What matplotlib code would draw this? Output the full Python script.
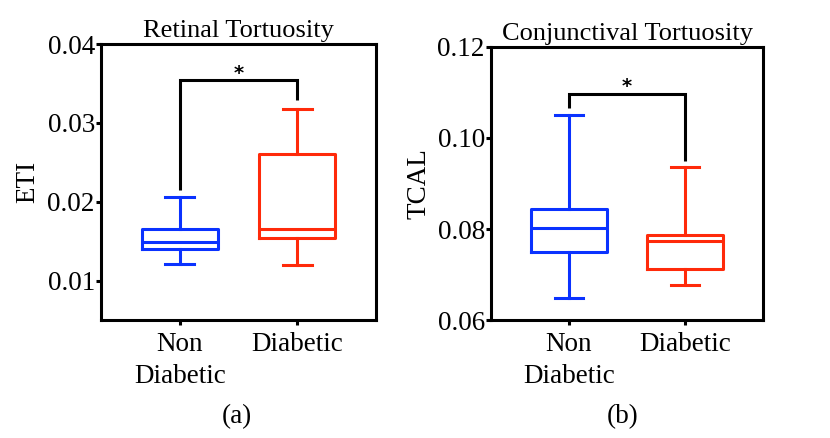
import matplotlib
matplotlib.use("Agg")
import matplotlib.pyplot as plt

plt.rcParams['font.family'] = ['Liberation Serif', 'DejaVu Serif']

groups = ['Non\nDiabetic', 'Diabetic']
colors = ['#0a32ff', '#ff2a0a']

# retinal tortuosity (ETI): whislo, q1, med, q3, whishi
eti_low = [0.0121, 0.0120]
eti_q1 = [0.0140, 0.0154]
eti_med = [0.0149, 0.0166]
eti_q3 = [0.0166, 0.0260]
eti_high = [0.0206, 0.0318]

# conjunctival tortuosity (TCAL)
tcal_low = [0.0648, 0.0678]
tcal_q1 = [0.0749, 0.0711]
tcal_med = [0.0803, 0.0774]
tcal_q3 = [0.0845, 0.0786]
tcal_high = [0.1050, 0.0937]

# significance brackets: top, left leg end, right leg end
eti_sig = [0.0354, 0.0215, 0.0329]
tcal_sig = [0.1097, 0.1065, 0.0950]

FS = 19.5


def caja(ax, low, q1, med, q3, high):
    for i in range(len(groups)):
        st = dict(whislo=low[i], q1=q1[i], med=med[i], q3=q3[i],
                  whishi=high[i], fliers=[])
        c = colors[i]
        lw = 2.2
        ax.bxp([st], positions=[i + 1], widths=0.65, showfliers=False,
               boxprops=dict(color=c, linewidth=lw),
               medianprops=dict(color=c, linewidth=lw),
               whiskerprops=dict(color=c, linewidth=lw),
               capprops=dict(color=c, linewidth=lw),
               capwidths=0.245, manage_ticks=False)


def bracket(ax, sig, star_y):
    top, l, r = sig
    ax.plot([1, 1, 2, 2], [l, top, top, r], color='black', linewidth=2.2,
            solid_capstyle='butt', solid_joinstyle='miter')
    ax.text(1.5, star_y, '*', ha='center', va='center', fontsize=14,
            fontweight='bold', family='DejaVu Sans')


def estilo(ax):
    ax.set_xlim(0.33, 2.67)
    ax.set_xticks([1, 2])
    ax.set_xticklabels(groups, fontsize=FS, linespacing=1.37)
    for s in ax.spines.values():
        s.set_linewidth(2.2)
    ax.tick_params(axis='both', width=2.2, length=3.5, labelsize=FS,
                   direction='out')
    ax.tick_params(axis='y', pad=1)
    ax.tick_params(axis='x', pad=5)


fig = plt.figure(figsize=(8.3, 4.38), dpi=100)

ax1 = fig.add_axes([0.1217, 0.2694, 0.3313, 0.6301])
caja(ax1, eti_low, eti_q1, eti_med, eti_q3, eti_high)
bracket(ax1, eti_sig, 0.0362)
ax1.set_ylim(0.005, 0.04)
ax1.set_yticks([0.01, 0.02, 0.03, 0.04])
ax1.set_yticklabels(['0.01', '0.02', '0.03', '0.04'])
estilo(ax1)
ax1.set_title('Retinal Tortuosity', fontsize=19, pad=5)
ax1.set_ylabel('ETI', fontsize=FS, labelpad=5)

ax2 = fig.add_axes([0.5916, 0.2694, 0.3277, 0.6233])
caja(ax2, tcal_low, tcal_q1, tcal_med, tcal_q3, tcal_high)
bracket(ax2, tcal_sig, 0.1113)
ax2.set_ylim(0.06, 0.12)
ax2.set_yticks([0.06, 0.08, 0.10, 0.12])
ax2.set_yticklabels(['0.06', '0.08', '0.10', '0.12'])
estilo(ax2)
ax2.set_title('Conjunctival Tortuosity', fontsize=19, pad=5)
ax2.set_ylabel('TCAL', fontsize=FS, labelpad=4)

fig.text(237 / 830, 1 - 417 / 438, '(a)', ha='center', va='center', fontsize=FS)
fig.text(623 / 830, 1 - 417 / 438, '(b)', ha='center', va='center', fontsize=FS)

fig.savefig('out.png', dpi=100)
